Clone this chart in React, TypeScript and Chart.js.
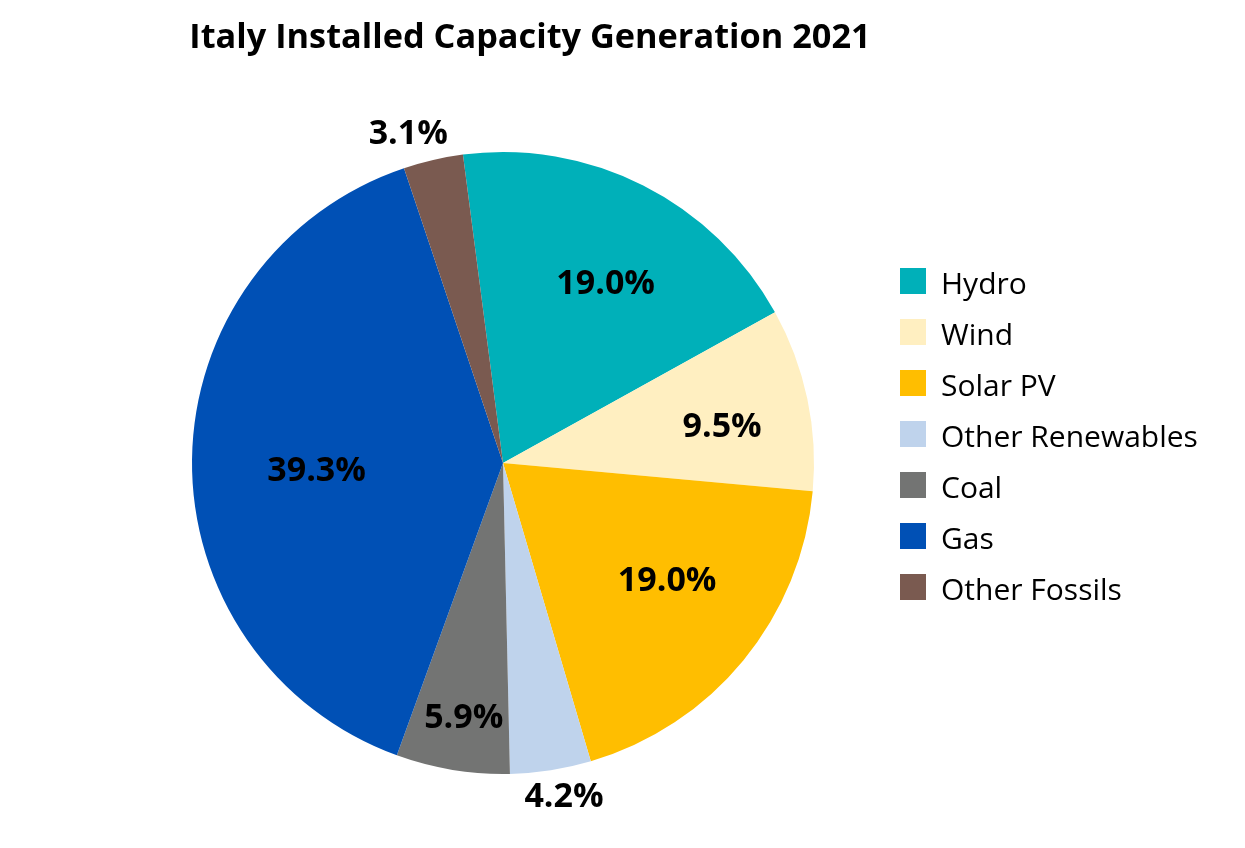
import React, { useEffect, useRef } from "react";
import { Chart, registerables } from "chart.js";

Chart.register(...registerables);

const categories = ["Hydro", "Wind", "Solar PV", "Other Renewables", "Coal", "Gas", "Other Fossils"];
const shares = [19.0, 9.5, 19.0, 4.2, 5.9, 39.3, 3.1];
const sliceColors = ["#00B0B9", "#FFEFC1", "#FFBE00", "#BFD3EC", "#737473", "#0050B5", "#7A5A50"];
const titleText = "Italy Installed Capacity Generation 2021";

// label placement per slice: [radius fraction, angle offset in degrees]
const labelPlacement: [number, number][] = [
  [0.662, 3.1],
  [0.714, 2.6],
  [0.65, -3.7],
  [1.093, -1.5],
  [0.83, -0.6],
  [0.6, -3.2],
  [1.1, -3.1],
];

const FONT = "'Open Sans', 'Noto Sans', sans-serif";

const overlayPlugin = {
  id: "overlay",
  afterDraw(chart: any) {
    const ctx = chart.ctx as CanvasRenderingContext2D;
    const meta = chart.getDatasetMeta(0);
    ctx.save();
    // slice labels
    ctx.fillStyle = "#000";
    ctx.font = `bold 34px ${FONT}`;
    ctx.textAlign = "center";
    ctx.textBaseline = "middle";
    meta.data.forEach((arc: any, i: number) => {
      const { x, y, startAngle, endAngle, outerRadius } = arc.getProps(
        ["x", "y", "startAngle", "endAngle", "outerRadius"],
        true
      );
      const [rf, off] = labelPlacement[i];
      const a = (startAngle + endAngle) / 2 + (off * Math.PI) / 180;
      const r = outerRadius * rf;
      ctx.fillText(shares[i].toFixed(1) + "%", x + Math.cos(a) * r, y + Math.sin(a) * r);
    });
    // title
    ctx.font = `bold 34.3px ${FONT}`;
    ctx.textBaseline = "alphabetic";
    ctx.fillText(titleText, 530, 48);
    // legend
    ctx.font = `30px ${FONT}`;
    ctx.textAlign = "left";
    categories.forEach((c, i) => {
      const top = 268 + i * 51;
      ctx.fillStyle = sliceColors[i];
      ctx.fillRect(900, top, 26, 26);
      ctx.fillStyle = "#000";
      ctx.fillText(c, 941, top + 26);
    });
    ctx.restore();
  },
};

export default function App() {
  const canvasRef = useRef<HTMLCanvasElement | null>(null);

  useEffect(() => {
    document.body.style.margin = "0";
    const canvas = canvasRef.current;
    if (!canvas) return;
    const chart = new Chart(canvas, {
      type: "pie",
      data: {
        labels: categories,
        datasets: [
          {
            data: shares,
            backgroundColor: sliceColors,
            borderWidth: 0,
          },
        ],
      },
      options: {
        animation: false,
        responsive: true,
        maintainAspectRatio: false,
        rotation: -7.4,
        layout: { padding: { left: 192, right: 431, top: 152, bottom: 74 } },
        plugins: {
          legend: { display: false },
          title: { display: false },
          tooltip: { enabled: false },
        },
      },
      plugins: [overlayPlugin],
    });
    return () => chart.destroy();
  }, []);

  return (
    <div style={{ width: 1245, height: 848, position: "relative", background: "#fff" }}>
      <canvas ref={canvasRef} />
    </div>
  );
}
